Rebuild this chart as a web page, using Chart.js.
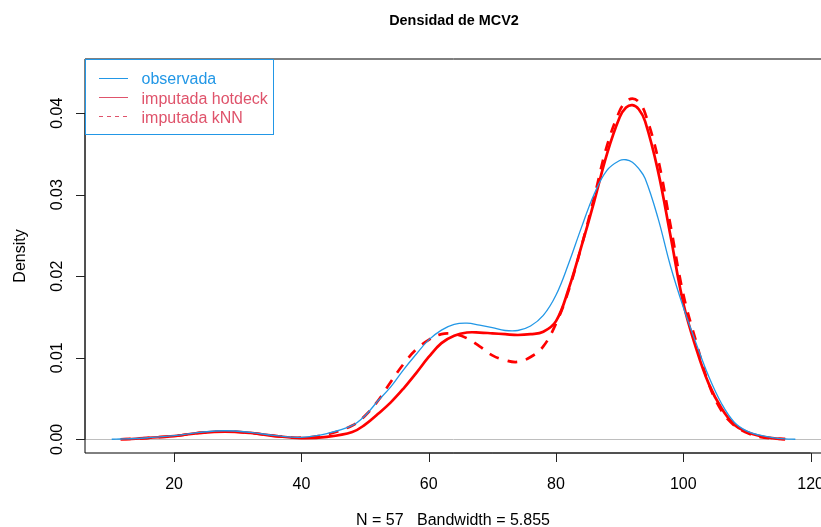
<!DOCTYPE html>
<html><head><meta charset="utf-8">
<script src="https://cdn.jsdelivr.net/npm/chart.js@4/dist/chart.umd.min.js"></script>
<style>html,body{margin:0;padding:0;background:#fff;overflow:hidden}#wrap{width:821px;height:527px;position:relative}</style>
</head><body><div id="wrap"><canvas id="c" width="821" height="527"></canvas></div>
<script>
// ---- data ----
const xValues = [10.2, 11.6, 14, 16, 20, 24, 28, 32, 36, 40,
  44, 48, 50, 52, 54, 56, 58, 60, 62, 64,
  66, 68, 70, 72, 74, 76, 78, 80, 82, 84,
  86, 88, 90, 91, 92, 93, 94, 96, 98, 100,
  102, 104, 106, 108, 110, 112, 114, 116, 117.6];
const observada = [0.00001, 0.00004, 0.0001, 0.0002, 0.00045, 0.00085, 0.00105, 0.00085, 0.00045, 0.00024,
  0.0007, 0.0017, 0.0029, 0.0047, 0.0064, 0.0085, 0.0104, 0.0122, 0.0134, 0.0141,
  0.01425, 0.0140, 0.0137, 0.01335, 0.01335, 0.0139, 0.0152, 0.0177, 0.0216, 0.0260,
  0.0301, 0.0330, 0.0342, 0.0343, 0.0340, 0.0332, 0.0320, 0.0272, 0.0212, 0.0162,
  0.0118, 0.0077, 0.0044, 0.0021, 0.0010, 0.0005, 0.0002, 0.00005, 0.00001];
const hotdeck = [null, 0.00001, 0.00007, 0.00018, 0.0004, 0.00078, 0.00095, 0.00078, 0.0004, 0.00015,
  0.0003, 0.0009, 0.0018, 0.0031, 0.0045, 0.0062, 0.0081, 0.0101, 0.0118, 0.0127,
  0.0131, 0.0131, 0.0130, 0.0129, 0.0128, 0.0129, 0.0132, 0.0145, 0.0185, 0.0237,
  0.0292, 0.0350, 0.0395, 0.0407, 0.0410, 0.0405, 0.0390, 0.0330, 0.0249, 0.0167,
  0.0112, 0.0068, 0.0038, 0.0018, 0.0009, 0.0004, 0.00015, 0.00002, null];
const knn = [null, 0.00001, 0.00007, 0.00018, 0.0004, 0.00078, 0.00095, 0.00078, 0.0004, 0.0002,
  0.0006, 0.0017, 0.0029, 0.0047, 0.0070, 0.0092, 0.0110, 0.0122, 0.0129, 0.0129,
  0.0124, 0.0114, 0.0103, 0.0097, 0.0095, 0.0101, 0.0114, 0.0142, 0.0183, 0.0237,
  0.0297, 0.0360, 0.0403, 0.0414, 0.0418, 0.0414, 0.0400, 0.0345, 0.0262, 0.0178,
  0.0120, 0.0068, 0.0035, 0.0017, 0.0008, 0.0003, 0.0001, 0.00002, null];
const xTicks = [20, 40, 60, 80, 100, 120];
const yTicks = [0, 0.01, 0.02, 0.03, 0.04];
const yTickLabels = ['0.00', '0.01', '0.02', '0.03', '0.04'];
const titleText = 'Densidad de MCV2';
const xTitle = 'N = 57   Bandwidth = 5.855';
const yTitle = 'Density';
const legendLabels = ['observada', 'imputada hotdeck', 'imputada kNN'];

// ---- styles ----
const BLUE = '#2297E6', PINK = '#DF536B', RED = '#FF0000';
const FONT = '"Liberation Sans", Arial, Helvetica, sans-serif';

function pts(arr) {
  const out = [];
  xValues.forEach((x, i) => { if (arr[i] !== null) out.push({ x: x, y: arr[i] }); });
  return out;
}

const decor = {
  id: 'decor',
  beforeDatasetsDraw(chart) {
    const { ctx, chartArea: a, scales: { y } } = chart;
    ctx.save();
    ctx.strokeStyle = '#BEBEBE';
    ctx.lineWidth = 1;
    const y0 = Math.round(y.getPixelForValue(0)) + 0.5;
    ctx.beginPath(); ctx.moveTo(a.left, y0); ctx.lineTo(a.right + 5, y0); ctx.stroke();
    ctx.restore();
  },
  afterDraw(chart) {
    const { ctx, chartArea: a, scales: { x, y } } = chart;
    ctx.save();
    // box
    ctx.strokeStyle = '#000'; ctx.lineWidth = 1;
    ctx.beginPath();
    ctx.moveTo(a.right + 5, a.top); ctx.lineTo(a.left, a.top); ctx.lineTo(a.left, a.bottom); ctx.lineTo(a.right + 5, a.bottom);
    ctx.stroke();
    // x axis
    const tl = 9;
    ctx.strokeStyle = '#222';
    ctx.beginPath();
    ctx.moveTo(x.getPixelForValue(xTicks[0]), a.bottom);
    ctx.lineTo(x.getPixelForValue(xTicks[xTicks.length - 1]), a.bottom);
    xTicks.forEach(v => { const px = Math.round(x.getPixelForValue(v)) + 0.5; ctx.moveTo(px, a.bottom); ctx.lineTo(px, a.bottom + tl); });
    ctx.stroke();
    ctx.fillStyle = '#000';
    ctx.font = '16px ' + FONT;
    ctx.textAlign = 'center'; ctx.textBaseline = 'alphabetic';
    xTicks.forEach(v => ctx.fillText(String(v), x.getPixelForValue(v), 488.5));
    // y axis
    ctx.beginPath();
    ctx.moveTo(a.left, y.getPixelForValue(yTicks[0]));
    ctx.lineTo(a.left, y.getPixelForValue(yTicks[yTicks.length - 1]));
    yTicks.forEach(v => { const py = Math.round(y.getPixelForValue(v)) + 0.5; ctx.moveTo(a.left, py); ctx.lineTo(a.left - tl, py); });
    ctx.stroke();
    yTicks.forEach((v, i) => {
      ctx.save();
      ctx.translate(61.5, y.getPixelForValue(v));
      ctx.rotate(-Math.PI / 2);
      ctx.fillText(yTickLabels[i], 0, 0);
      ctx.restore();
    });
    // axis titles
    ctx.fillText(xTitle, 453, 525);
    ctx.save();
    ctx.translate(24.5, (a.top + a.bottom) / 2);
    ctx.rotate(-Math.PI / 2);
    ctx.fillText(yTitle, 0, 0);
    ctx.restore();
    // main title
    ctx.font = 'bold 14.4px ' + FONT;
    ctx.fillText(titleText, 454, 25);
    // legend
    ctx.strokeStyle = BLUE; ctx.lineWidth = 1;
    ctx.strokeRect(85.5, 59.5, 188, 75);
    const rowsY = [77.7, 97, 116.2];
    const lcols = [BLUE, PINK, PINK];
    const dashes = [[], [], [4, 4]];
    ctx.textAlign = 'left';
    ctx.font = '16px ' + FONT;
    legendLabels.forEach((t, i) => {
      ctx.strokeStyle = lcols[i];
      ctx.setLineDash(dashes[i]);
      ctx.beginPath(); ctx.moveTo(99, Math.round(rowsY[i]) + 0.5); ctx.lineTo(128, Math.round(rowsY[i]) + 0.5); ctx.stroke();
      ctx.setLineDash([]);
      ctx.fillStyle = lcols[i];
      ctx.fillText(t, 141.5, rowsY[i] + 6.6);
    });
    ctx.restore();
  }
};

new Chart(document.getElementById('c'), {
  type: 'line',
  data: {
    datasets: [
      { label: legendLabels[0], data: pts(observada), borderColor: BLUE, borderWidth: 1.3, pointRadius: 0, tension: 0.4, fill: false },
      { label: legendLabels[1], data: pts(hotdeck), borderColor: RED, borderWidth: 2.7, pointRadius: 0, tension: 0.4, fill: false },
      { label: legendLabels[2], data: pts(knn), borderColor: RED, borderWidth: 2.7, borderDash: [10, 9], pointRadius: 0, tension: 0.4, fill: false }
    ]
  },
  options: {
    responsive: false,
    devicePixelRatio: 1,
    animation: false,
    layout: { padding: { left: 85, top: 59, right: 0, bottom: 74 } },
    plugins: { legend: { display: false }, title: { display: false }, tooltip: { enabled: false } },
    scales: {
      x: { type: 'linear', min: 6.0, max: 121.63, display: false },
      y: { type: 'linear', min: -0.00168, max: 0.04666, display: false }
    }
  },
  plugins: [decor]
});
</script>
</body></html>
